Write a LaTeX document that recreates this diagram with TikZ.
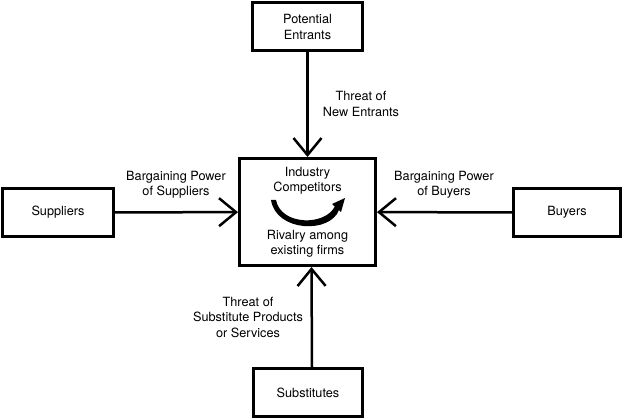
\documentclass[tikz,border=0pt]{standalone}
\usepackage{fontspec}
\setmainfont{TeX Gyre Heros}
\usetikzlibrary{arrows.meta}
\tikzset{
  forcebox/.style={draw,line width=3pt,minimum width=#1,minimum height=48pt,align=center,inner sep=0pt},
  forcelabel/.style={align=center,inner sep=0pt},
  pressure/.style={line width=2.5pt,-{Straight Barb[length=17pt,width=28pt]}}
}
\begin{document}
\begin{tikzpicture}[x=1pt,y=-1pt,font=\fontsize{12.7}{15.5}\selectfont]
\useasboundingbox (0,0) rectangle (625,420);
\node[forcebox=110pt] (entrants) at (307.5,27) {Potential\\Entrants};
\node[forcebox=111pt] (suppliers) at (58,212.5) {Suppliers};
\node[forcebox=107pt] (buyers) at (567,212.5) {Buyers};
\node[forcebox=109pt] (substitutes) at (308,392.5) {Substitutes};
\node[forcebox=136pt,minimum height=107pt] (rivalry) at (307.5,212) {};
\node[forcelabel] (industry) at (307.5,181) {Industry\\Competitors};
\node[forcelabel] (firms) at (307.5,244) {Rivalry among\\existing firms};
\fill (271,200) .. controls (276,232) and (330,234) .. (339,210)
  -- (335,206) .. controls (326,226) and (281,226) .. (276,200) -- cycle;
\fill (332,204) -- (345,198) -- (341,212) -- cycle;
\draw[pressure] (entrants) -- (rivalry);
\draw[pressure] (suppliers) -- (rivalry);
\draw[pressure] (buyers) -- (rivalry);
\draw[pressure] ([xshift=4pt]substitutes.north) -- ([xshift=4pt]rivalry.south);
\node[forcelabel] (newentrants) at (361,104) {Threat of\\New Entrants};
\node[forcelabel] (supplierpower) at (176,185) {Bargaining Power\\of Suppliers};
\node[forcelabel] (buyerpower) at (444,185) {Bargaining Power\\of Buyers};
\node[forcelabel] (substituteproducts) at (248,317) {Threat of\\Substitute Products\\or Services};
\end{tikzpicture}
\end{document}
